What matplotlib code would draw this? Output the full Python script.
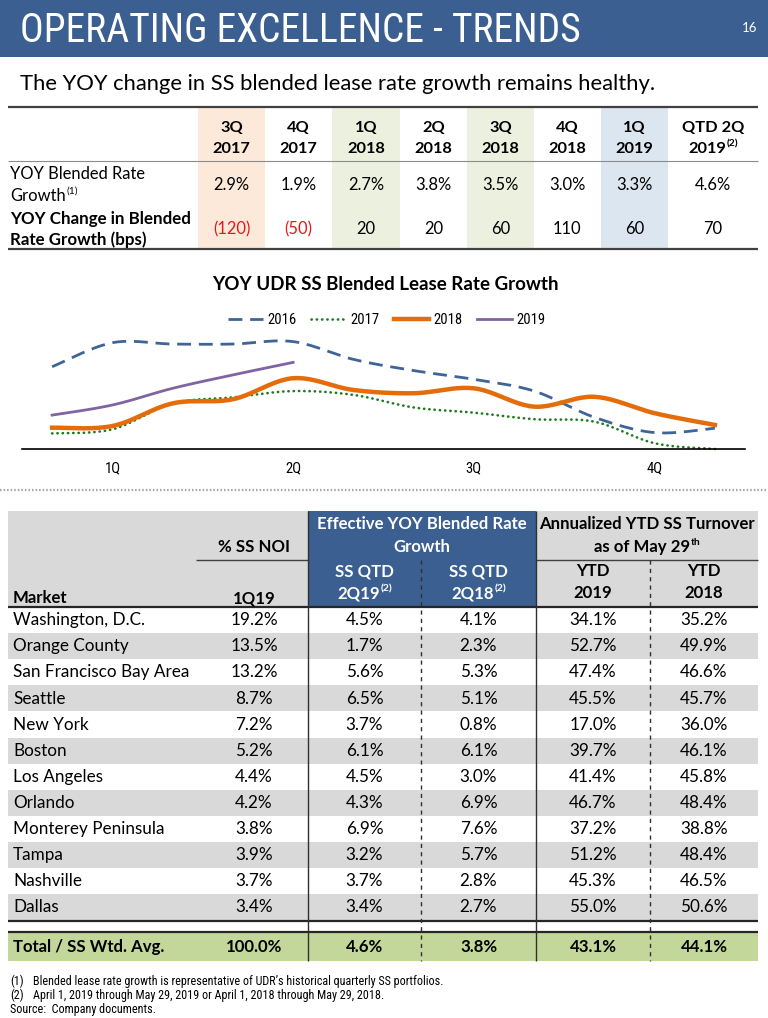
import matplotlib
matplotlib.use("Agg")
import matplotlib.pyplot as plt
from matplotlib.patches import Rectangle
from matplotlib import font_manager
import numpy as np

# ---------------- data ----------------
top_cols_l1 = ["3Q", "4Q", "1Q", "2Q", "3Q", "4Q", "1Q", "QTD 2Q"]
top_cols_l2 = ["2017", "2017", "2018", "2018", "2018", "2018", "2019", "2019"]
top_cols_sup = ["", "", "", "", "", "", "", "(2)"]
blended_rate = ["2.9%", "1.9%", "2.7%", "3.8%", "3.5%", "3.0%", "3.3%", "4.6%"]
change_bps = ["(120)", "(50)", "20", "20", "60", "110", "60", "70"]

quarters = ["1Q", "2Q", "3Q", "4Q"]
months = list(range(12))
y2016 = [4.60, 5.48, 5.43, 5.43, 5.52, 4.87, 4.46, 4.14, 3.71, 2.75, 2.19, 2.35]
y2017 = [2.16, 2.31, 3.26, 3.48, 3.71, 3.57, 3.11, 2.92, 2.68, 2.59, 1.80, 1.59]
y2018 = [2.37, 2.43, 3.26, 3.41, 4.18, 3.75, 3.63, 3.81, 3.14, 3.50, 2.90, 2.47]
y2019 = [2.83, 3.20, 3.81, 4.30, 4.76]

markets = ["Washington, D.C.", "Orange County", "San Francisco Bay Area", "Seattle",
           "New York", "Boston", "Los Angeles", "Orlando", "Monterey Peninsula",
           "Tampa", "Nashville", "Dallas"]
ss_noi = ["19.2%", "13.5%", "13.2%", "8.7%", "7.2%", "5.2%", "4.4%", "4.2%", "3.8%",
          "3.9%", "3.7%", "3.4%"]
qtd_2q19 = ["4.5%", "1.7%", "5.6%", "6.5%", "3.7%", "6.1%", "4.5%", "4.3%", "6.9%",
            "3.2%", "3.7%", "3.4%"]
qtd_2q18 = ["4.1%", "2.3%", "5.3%", "5.1%", "0.8%", "6.1%", "3.0%", "6.9%", "7.6%",
            "5.7%", "2.8%", "2.7%"]
ytd_2019 = ["34.1%", "52.7%", "47.4%", "45.5%", "17.0%", "39.7%", "41.4%", "46.7%",
            "37.2%", "51.2%", "45.3%", "55.0%"]
ytd_2018 = ["35.2%", "49.9%", "46.6%", "45.7%", "36.0%", "46.1%", "45.8%", "48.4%",
            "38.8%", "48.4%", "46.5%", "50.6%"]
total_row = ["Total / SS Wtd. Avg.", "100.0%", "4.6%", "3.8%", "43.1%", "44.1%"]

footnotes = [("(1)", "Blended lease rate growth is representative of UDR\u2019s historical quarterly SS portfolios."),
             ("(2)", "April 1, 2019 through May 29, 2019 or April 1, 2018 through May 29, 2018.")]
source_note = "Source:  Company documents."

# ---------------- fonts ----------------
avail = {f.name for f in font_manager.fontManager.ttflist}
def pick(*names):
    for n in names:
        if n in avail:
            return n
    return "DejaVu Sans"
NARROW = [pick("Liberation Sans Narrow", "Arial Narrow", "Roboto Condensed",
               "DejaVu Sans Condensed", "Roboto", "Liberation Sans"), "DejaVu Sans"]
BODY = [pick("Lato", "Open Sans", "DejaVu Sans"), "DejaVu Sans"]

# ---------------- figure ----------------
fig = plt.figure(figsize=(7.68, 10.18), dpi=100)
ax = fig.add_axes([0, 0, 1, 1])
ax.set_xlim(0, 768)
ax.set_ylim(1018, 0)
ax.axis("off")
renderer = fig.canvas.get_renderer()

def width_of(s, size, family, weight="normal"):
    t = ax.text(0, 0, s, fontsize=size, family=family, weight=weight)
    w = t.get_window_extent(renderer).width
    t.remove()
    return w

def fit(s, target, family, weight="normal"):
    return 10 * target / width_of(s, 10, family, weight)

def T(x, yc, s, size, family=BODY, weight="normal", color="black", ha="left", cap=0.36):
    px = size / 0.72
    return ax.text(x, yc + cap * px, s, fontsize=size, family=family, weight=weight,
                   color=color, ha=ha, va="baseline")

def TS(x, yc, main, sup, size, family=BODY, weight="normal", color="black", ha="center"):
    if not sup:
        return T(x, yc, main, size, family, weight, color, ha)
    ssize = size * 0.62
    wm = width_of(main, size, family, weight)
    ws = width_of(sup, ssize, family, weight)
    x0 = x - (wm + ws) / 2 if ha == "center" else x
    T(x0, yc, main, size, family, weight, color, "left")
    px = size / 0.72
    T(x0 + wm + 0.5, yc - 0.28 * px, sup, ssize, family, weight, color, "left")

def hline(x0, x1, y, lw=1.0, color="#404040", ls="-"):
    ax.plot([x0, x1], [y, y], color=color, lw=lw, ls=ls, solid_capstyle="butt")

def vline(x, y0, y1, lw=1.0, color="#404040", ls="-"):
    ax.plot([x, x], [y0, y1], color=color, lw=lw, ls=ls, solid_capstyle="butt")

# ---------------- header ----------------
ax.add_patch(Rectangle((0, 0), 768, 57, color="#3A5F90", lw=0))
T(20, 28, "OPERATING EXCELLENCE - TRENDS", fit("OPERATING EXCELLENCE - TRENDS", 562, NARROW),
  family=NARROW, color="white")
T(750, 27, "16", 9.5, family=BODY, color="white", ha="center")

sub = "The YOY change in SS blended lease rate growth remains healthy."
T(20, 82, sub, fit(sub, 635, BODY), family=BODY)

# ---------------- top table ----------------
col_edges = [198, 265, 332, 400, 467, 534, 601, 668, 758]
shade = {0: "#FDE9D9", 2: "#EBF1DE", 4: "#EBF1DE", 6: "#DCE6F1"}
for i, c in shade.items():
    ax.add_patch(Rectangle((col_edges[i], 107), col_edges[i + 1] - col_edges[i], 142,
                           color=c, lw=0))
hline(8, 758, 107, lw=1.6)
hline(8, 758, 161, lw=0.8, color="#8C8C8C")
hline(8, 758, 249, lw=1.6)

hsz = fit("QTD 2Q", 62, BODY, "bold")
bsz = fit("YOY Blended Rate", 135, BODY)
for i in range(8):
    cx = (col_edges[i] + col_edges[i + 1]) / 2
    T(cx, 126, top_cols_l1[i], hsz, weight="bold", ha="center")
    TS(cx, 147, top_cols_l2[i], top_cols_sup[i], hsz, weight="bold")
    T(cx, 184, blended_rate[i], bsz, ha="center")
    col = "#E31A1C" if change_bps[i].startswith("(") else "black"
    T(cx, 228, change_bps[i], bsz, ha="center", color=col)
T(10, 173, "YOY Blended Rate", bsz)
TS(10, 195, "Growth", "(1)", bsz, ha="left")
lsz = fit("YOY Change in Blended", 181, BODY, "bold")
T(10, 218, "YOY Change in Blended", lsz, weight="bold")
T(10, 239, "Rate Growth (bps)", lsz, weight="bold")

# ---------------- chart ----------------
cax = fig.add_axes([22 / 768, 1 - 449 / 1018, 723 / 768, 124 / 1018])
cax.patch.set_alpha(0)
ymin = 1.59
cax.set_ylim(ymin, ymin + 124 / 27.33)
cax.set_xlim(-0.5, 11.5)

def smooth(xs, ys, n=24):
    P = np.column_stack([xs, ys]).astype(float)
    P = np.vstack([P[0], P, P[-1]])
    out = []
    for i in range(1, len(P) - 2):
        p0, p1, p2, p3 = P[i - 1], P[i], P[i + 1], P[i + 2]
        b1 = p1 + (p2 - p0) / 6
        b2 = p2 - (p3 - p1) / 6
        t = np.linspace(0, 1, n)[:, None]
        seg = (1 - t) ** 3 * p1 + 3 * (1 - t) ** 2 * t * b1 + 3 * (1 - t) * t ** 2 * b2 + t ** 3 * p2
        out.append(seg if i == 1 else seg[1:])
    out = np.vstack(out)
    return out[:, 0], out[:, 1]

series = [
    ("2016", y2016, dict(color="#3F6596", lw=2.0, ls=(0, (5, 2.8)))),
    ("2017", y2017, dict(color="#1F7A1F", lw=1.9, ls=(0, (0.1, 1.9)), dash_capstyle="round")),
    ("2018", y2018, dict(color="#E46C0A", lw=3.2, ls="-")),
    ("2019", y2019, dict(color="#8064A2", lw=2.0, ls="-")),
]
for name, ys, st in series:
    sx, sy = smooth(months[:len(ys)], ys)
    cax.plot(sx, sy, label=name, clip_on=False, **st)

for s in ["top", "left", "right"]:
    cax.spines[s].set_visible(False)
cax.spines["bottom"].set_color("black")
cax.spines["bottom"].set_linewidth(1.2)
cax.set_yticks([])
cax.set_xticks([1, 4, 7, 10])
cax.set_xticklabels(quarters, family=NARROW, fontsize=10.5)
cax.tick_params(axis="x", length=0, pad=9)

leg = cax.legend(loc="center", bbox_to_anchor=(387 / 768, 1 - 320 / 1018),
                 bbox_transform=fig.transFigure, ncol=4, frameon=False,
                 prop={"family": NARROW, "size": 10.5}, handlelength=2.4,
                 handletextpad=0.3, columnspacing=1.0)

ctitle = "YOY UDR SS Blended Lease Rate Growth"
T(385, 283, ctitle, fit(ctitle, 348, BODY, "bold"), weight="bold", ha="center")

# separator
ax.plot([0, 768], [490, 490], color="#A6A6A6", lw=1.6, ls=(0, (0.7, 0.9)))

# ---------------- bottom table ----------------
ax.add_patch(Rectangle((8, 511), 300, 96, color="#D9D9D9", lw=0))
ax.add_patch(Rectangle((536, 511), 222, 96, color="#D9D9D9", lw=0))
ax.add_patch(Rectangle((308, 511), 228, 96, color="#3A5F90", lw=0))

row_top = 607
row_h = 26.1
centers = [254, 364.5, 478.5, 593, 704]
for r in range(12):
    y0 = row_top + r * row_h
    if r % 2 == 1:
        ax.add_patch(Rectangle((8, y0), 750, row_h, color="#D9D9D9", lw=0))
ax.add_patch(Rectangle((8, 933), 750, 28, color="#C4D79B", lw=0))

hline(196, 308, 560, lw=1.0)
hline(536, 758, 560, lw=1.0)
hline(8, 758, 607, lw=1.6, color="#262626")
hline(8, 758, 921, lw=1.6, color="#262626")
hline(8, 758, 932, lw=1.6, color="#262626")
vline(308, 511, 961, lw=1.0, color="#303030")
vline(536, 511, 961, lw=1.0, color="#303030")
vline(421, 560, 961, lw=1.0, color="#303030", ls=(0, (3, 3)))
vline(650, 560, 961, lw=1.0, color="#303030", ls=(0, (3, 3)))

hb = fit("Effective YOY Blended Rate", 212, BODY, "bold")
body = fit("Washington, D.C.", 132, BODY)

T(422, 523, "Effective YOY Blended Rate", hb, weight="bold", color="white", ha="center")
T(422, 546, "Growth", hb, weight="bold", color="white", ha="center")
T(647, 523, "Annualized YTD SS Turnover", hb, weight="bold", ha="center")
TS(647, 546, "as of May 29", "th", hb, weight="bold")
T(254, 546, "% SS NOI", hb, weight="bold", ha="center")
T(13, 597, "Market", hb, weight="bold")
T(254, 597, "1Q19", hb, weight="bold", ha="center")
T(364.5, 570, "SS QTD", hb, weight="bold", color="white", ha="center")
TS(364.5, 592, "2Q19", "(2)", hb, weight="bold", color="white")
T(478.5, 570, "SS QTD", hb, weight="bold", color="white", ha="center")
TS(478.5, 592, "2Q18", "(2)", hb, weight="bold", color="white")
T(593, 570, "YTD", hb, weight="bold", ha="center")
T(593, 592, "2019", hb, weight="bold", ha="center")
T(704, 570, "YTD", hb, weight="bold", ha="center")
T(704, 592, "2018", hb, weight="bold", ha="center")

cols = [ss_noi, qtd_2q19, qtd_2q18, ytd_2019, ytd_2018]
for r in range(12):
    yc = row_top + (r + 0.5) * row_h - 1
    T(13, yc, markets[r], body)
    for c, vals in enumerate(cols):
        T(centers[c], yc, vals[r], body, ha="center")

tb = fit("Total / SS Wtd. Avg.", 152, BODY, "bold")
T(13, 946, total_row[0], tb, weight="bold")
for c in range(5):
    T(centers[c], 946, total_row[c + 1], tb, weight="bold", ha="center")

# ---------------- footnotes ----------------
fsz = fit(footnotes[0][1], 408, NARROW)
for i, (mk, txt) in enumerate(footnotes):
    T(10, 981 + i * 14, mk, fsz, family=NARROW)
    T(33, 981 + i * 14, txt, fsz, family=NARROW)
T(10, 1009, source_note, fsz, family=NARROW)

fig.savefig("out.png", dpi=100)
